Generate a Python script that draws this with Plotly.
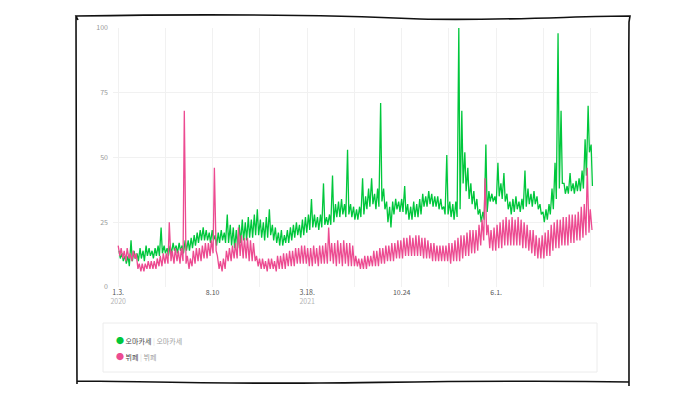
import pandas as pd
import plotly.graph_objects as go

# ---------------- data (weekly high / low readings, week 0 starts 2020-01-03) ----------------
start_date = "2020-01-03"

omakase_high = [14, 13, 12, 12, 18, 14, 13,
                15, 14, 16, 15, 14, 15, 16,
                23,
                16, 15, 16, 17, 16, 17, 16, 18,
                18, 19, 20, 21, 22, 23, 22,
                21, 22, 20, 21, 22, 21,
                28,
                24, 23, 22, 24,
                26, 25, 27, 26, 28, 30,
                26, 25, 27, 30,
                24, 23, 21, 22, 20, 22,
                23, 24, 25, 24, 26, 27,
                28, 34, 28, 27, 28, 40,
                27, 28, 43, 32, 33, 34, 32, 53, 32, 31, 30, 31, 42, 35, 38, 42, 36, 38, 71, 38, 33, 31, 33, 34, 33, 34, 39,
                32, 31, 33, 32, 34, 36, 35, 37, 36, 35,
                35, 34, 31, 51, 33, 32, 33, 100, 68, 52,
                46, 40, 37, 34, 30, 29, 55, 37, 36, 35,
                48, 40, 44, 36, 33, 34, 35, 33, 34, 45,
                38, 36, 37, 35, 32, 29, 30, 32, 38, 48,
                98, 68, 40, 39, 44, 40, 41, 42, 45, 57,
                70, 55]

omakase_low = [11, 10, 9, 8, 10, 11, 10,
               11, 10, 12, 12, 11, 12, 12,
               13,
               13, 12, 13, 14, 13, 14, 13, 14,
               14, 15, 16, 17, 18, 18, 18,
               17, 18, 16, 17, 18, 17,
               17,
               16, 15, 15, 17,
               18, 18, 19, 19, 20, 20,
               19, 18, 19, 20,
               18, 17, 16, 16, 17, 17,
               18, 19, 20, 19, 20, 21,
               22, 23, 23, 22, 23, 24,
               24, 24, 25, 27, 27, 28, 27, 28, 27, 26, 26, 27, 28, 30, 31, 32, 30, 31, 33, 30, 25, 23, 28, 30, 29, 29, 28,
               26, 26, 27, 27, 28, 31, 31, 32, 31, 31,
               30, 30, 28, 28, 27, 26, 27, 30, 40, 37,
               34, 32, 30, 28, 25, 26, 29, 33, 33, 32,
               35, 34, 33, 30, 28, 29, 30, 29, 30, 31,
               32, 31, 32, 30, 28, 25, 26, 28, 30, 34,
               38, 40, 36, 36, 37, 36, 37, 37, 38, 43,
               52, 39]

buffet_high = [16, 15, 14, 15, 13, 14, 13,
               9, 9, 9, 10, 10, 10, 11,
               12, 13, 13,
               25,
               14, 15, 14,
               15,
               68,
               12, 11,
               14, 15, 15, 16, 17, 17, 18,
               46,
               12, 10, 11,
               14, 15, 16, 17,
               23,
               20, 19, 19, 18, 17,
               12, 11, 11, 10, 11, 11, 10, 12,
               12, 13, 13, 14, 14, 15, 15, 16, 16,
               15, 15, 16, 15, 16, 16,
               17, 23,
               17, 17, 18, 17, 18, 17, 17, 16,
               12, 11, 11, 12, 12, 12,
               14, 14, 15, 15, 16, 16, 17, 17, 18, 18, 19,
               19, 20, 19, 20, 20, 19, 19, 18,
               17, 17, 16, 16, 16, 16, 17, 17,
               18, 19, 20, 20, 21, 22, 22, 22,
               24, 26, 42,
               24, 22, 23, 24,
               25, 26, 27, 26, 27, 26, 27, 26, 25, 24,
               22, 22, 20, 19, 20, 21, 22,
               24, 25, 26, 26, 27, 27, 28, 28, 28,
               29, 31, 32, 46,
               30]

buffet_low = [12, 11, 10, 11, 10, 11, 7,
              6, 6, 7, 7, 7, 7, 8,
              8, 9, 9,
              10,
              9, 10, 9,
              10,
              9,
              7, 8,
              9, 10, 10, 11, 11, 12, 13,
              14,
              7, 6, 7,
              10, 10, 11, 11,
              12,
              11, 11, 10, 10, 10,
              8, 7, 7, 6, 7, 7, 6, 7,
              7, 7, 8, 8, 8, 9, 9, 9, 9,
              8, 8, 9, 8, 9, 9,
              9, 10,
              9, 8, 9, 8, 9, 8, 8, 8,
              8, 7, 7, 7, 8, 8,
              8, 8, 9, 9, 10, 10, 10, 11, 11, 11, 12,
              12, 12, 12, 12, 12, 11, 11, 11,
              10, 10, 10, 10, 10, 10, 9, 10,
              10, 10, 11, 12, 12, 13, 13, 14,
              16, 18, 20,
              15, 14, 14, 15,
              15, 16, 16, 16, 16, 16, 16, 15, 15, 14,
              13, 12, 11, 11, 11, 12, 12,
              14, 15, 15, 16, 16, 16, 17, 17, 18,
              18, 19, 20, 21,
              22]

series_names = ["오마카세", "뷔페"]
series_colors = ["#00c73c", "#ec4b91"]

tick_step_days = 110
tick_labels = ["1.3.<br><span style='color:#b5b5b5'>2020</span>", "",
               "8.10", "",
               "3.18.<br><span style='color:#b5b5b5'>2021</span>", "",
               "10.24", "",
               "6.1.", "", ""]

# ---------------- build ----------------
start = pd.Timestamp(start_date)


def weekly_series(high, low, d_high, d_low):
    xs, ys = [], []
    for w in range(len(high)):
        xs.append(start + pd.Timedelta(days=7 * w + d_high))
        ys.append(high[w])
        xs.append(start + pd.Timedelta(days=7 * w + d_low))
        ys.append(low[w])
    return xs, ys


gx, gy = weekly_series(omakase_high, omakase_low, 2, 5)
px_, py_ = weekly_series(buffet_high, buffet_low, 0, 4)

fig = go.Figure()
fig.add_trace(go.Scatter(x=gx, y=gy, mode="lines", name=series_names[0],
                         line=dict(color=series_colors[0], width=1.3), showlegend=False))
fig.add_trace(go.Scatter(x=px_, y=py_, mode="lines", name=series_names[1],
                         line=dict(color=series_colors[1], width=1.3), showlegend=False))

tickvals = [start + pd.Timedelta(days=tick_step_days * k) for k in range(len(tick_labels))]

# page has an 8px body margin -> work in screen pixels, shift by OFF
OFF = 8
W, H = 698 - OFF, 394 - OFF
L, R, T, B = 113, 598, 28, 287  # plot area in screen pixels


def P(x, y):
    return (x - L) / (R - L), (B - y) / (B - T)


def path(points):
    s = ""
    for cmd, pts in points:
        coords = " ".join("%.5f,%.5f" % P(x, y) for x, y in pts)
        s += "%s %s " % (cmd, coords)
    return s


frame = path([
    ("M", [(78, 20)]),
    ("L", [(76, 16)]),
    ("C", [(200, 14), (330, 15), (420, 19)]),
    ("C", [(500, 21), (580, 16), (630, 16)]),
    ("L", [(629, 22)]),
    ("C", [(628, 150), (630, 280), (629, 386)]),
    ("M", [(629, 382)]),
    ("C", [(520, 380), (420, 382), (320, 383)]),
    ("C", [(220, 384), (120, 381), (77, 381)]),
    ("M", [(76, 16)]),
    ("C", [(77, 120), (76, 260), (77, 384)]),
])

shapes = [
    dict(type="path", xref="paper", yref="paper", path=frame,
         line=dict(color="#111", width=1.6)),
    dict(type="rect", xref="paper", yref="paper",
         x0=P(103, 0)[0], x1=P(597, 0)[0], y0=P(0, 372)[1], y1=P(0, 323)[1],
         line=dict(color="#ececec", width=1), fillcolor="white"),
]

annotations = []
for i, (nm, col) in enumerate(zip(series_names, series_colors)):
    xx, yy = P(114, 340 + 16.5 * i)
    annotations.append(dict(
        xref="paper", yref="paper", x=xx, y=yy, xanchor="left", yanchor="middle",
        showarrow=False,
        text=("<span style='color:%s;font-size:8px'>●</span> %s "
              "<span style='color:#dcdcdc'>|</span> <span style='color:#a0a0a0'>%s</span>") % (col, nm, nm),
        font=dict(size=7, color="#444"),
    ))

fig.update_layout(
    width=W, height=H,
    margin=dict(l=L - OFF, r=W - (R - OFF), t=T - OFF, b=H - (B - OFF), pad=0),
    paper_bgcolor="white", plot_bgcolor="white",
    font=dict(family="Noto Sans CJK KR, Noto Sans, sans-serif", size=8, color="#666"),
    shapes=shapes, annotations=annotations,
    showlegend=False,
)
fig.update_xaxes(
    type="date",
    range=[start - pd.Timedelta(days=12), start + pd.Timedelta(days=1117)],
    tickmode="array", tickvals=tickvals, ticktext=tick_labels,
    showgrid=True, gridcolor="#f1f1f1", gridwidth=1,
    showline=False, zeroline=False, ticks="",
    tickfont=dict(size=7, color="#555"),
)
fig.update_yaxes(
    range=[0, 100], tickvals=[0, 25, 50, 75, 100],
    showgrid=True, gridcolor="#f1f1f1", gridwidth=1,
    showline=False, zeroline=False, ticks="",
    tickfont=dict(size=7, color="#999"),
    ticklabelstandoff=4,
)

fig.write_html("out.html")
